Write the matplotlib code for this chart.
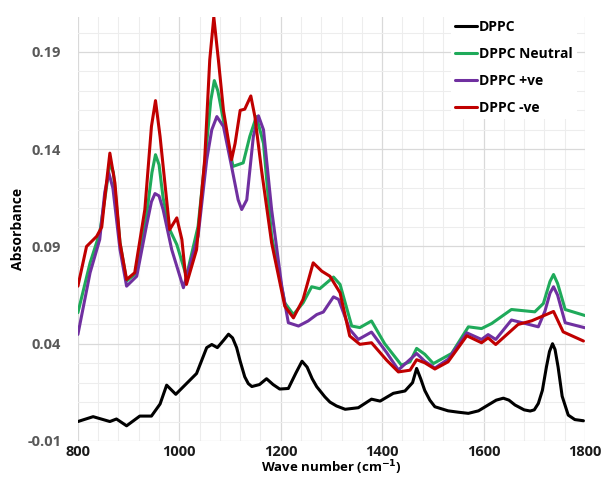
import matplotlib
matplotlib.use("Agg")
import matplotlib.pyplot as plt
from matplotlib.ticker import MultipleLocator, FixedLocator

plt.rcParams['font.family'] = ['Open Sans', 'DejaVu Sans']

labels = ["DPPC", "DPPC Neutral", "DPPC +ve", "DPPC -ve"]
colors = ["#000000", "#1FAA5A", "#7030A0", "#C00000"]

# DPPC (black)
wn_dppc = [800, 830, 863, 876, 896, 922, 945, 962, 975, 993, 1011, 1034, 1054, 1064, 1075, 1088, 1097,
           1105, 1113, 1120, 1129, 1136, 1143, 1158, 1172, 1185, 1198, 1215, 1230, 1242, 1252, 1262, 1271,
           1287, 1297, 1310, 1327, 1353, 1379, 1396, 1422, 1445, 1460, 1468, 1476, 1484, 1494, 1504, 1530,
           1550, 1570, 1590, 1609, 1625, 1639, 1650, 1662, 1680, 1692, 1700, 1708, 1716, 1724, 1730, 1736,
           1741, 1747, 1755, 1767, 1780, 1797]
abs_dppc = [0.000, 0.0025, 0.000, 0.0013, -0.0022, 0.0028, 0.0028, 0.009, 0.0187, 0.014, 0.0187, 0.0247,
            0.038, 0.0396, 0.038, 0.042, 0.0449, 0.043, 0.038, 0.031, 0.023, 0.0195, 0.018, 0.019, 0.022,
            0.019, 0.0167, 0.017, 0.025, 0.031, 0.028, 0.022, 0.0179, 0.0127, 0.010, 0.008, 0.0063, 0.0071,
            0.0115, 0.0105, 0.0145, 0.0157, 0.020, 0.0273, 0.022, 0.016, 0.011, 0.0076, 0.0055, 0.0048,
            0.0042, 0.0055, 0.0085, 0.011, 0.012, 0.011, 0.0085, 0.006, 0.0054, 0.006, 0.0093, 0.016,
            0.0281, 0.036, 0.040, 0.037, 0.028, 0.013, 0.0033, 0.001, 0.0004]

# DPPC Neutral (green)
wn_neutral = [800, 824, 843, 855, 863, 870, 883, 896, 916, 935, 946, 953, 960, 968, 981, 995, 1014, 1037,
              1054, 1062, 1069, 1076, 1093, 1106, 1126, 1139, 1152, 1166, 1182, 1208, 1225, 1244, 1261,
              1277, 1304, 1317, 1340, 1356, 1379, 1405, 1438, 1455, 1468, 1484, 1501, 1537, 1570, 1596,
              1616, 1655, 1701, 1718, 1731, 1738, 1746, 1761, 1800]
abs_neutral = [0.056, 0.0816, 0.097, 0.118, 0.133, 0.128, 0.092, 0.0722, 0.0765, 0.1055, 0.128, 0.1372,
               0.132, 0.115, 0.0987, 0.091, 0.0747, 0.1004, 0.143, 0.165, 0.1753, 0.170, 0.1466, 0.1312,
               0.133, 0.1466, 0.1568, 0.143, 0.0953, 0.061, 0.055, 0.061, 0.0693, 0.0683, 0.0743, 0.0705,
               0.0491, 0.0483, 0.0517, 0.040, 0.029, 0.0307, 0.0376, 0.0346, 0.0298, 0.035, 0.0487, 0.0478,
               0.0504, 0.0576, 0.0564, 0.0607, 0.072, 0.0756, 0.071, 0.0576, 0.0545]

# DPPC +ve (purple)
wn_pos = [800, 824, 843, 853, 861, 869, 883, 896, 916, 935, 945, 952, 960, 968, 985, 1008, 1037, 1054,
          1064, 1074, 1087, 1103, 1116, 1123, 1133, 1146, 1156, 1166, 1182, 1202, 1215, 1235, 1254, 1271,
          1284, 1304, 1314, 1336, 1353, 1379, 1409, 1432, 1468, 1484, 1504, 1530, 1567, 1596, 1609, 1624,
          1655, 1708, 1721, 1731, 1738, 1746, 1761, 1800]
abs_pos = [0.0448, 0.0765, 0.0936, 0.118, 0.1278, 0.120, 0.0884, 0.0696, 0.0747, 0.1004, 0.113, 0.1172,
           0.116, 0.109, 0.0884, 0.0688, 0.0953, 0.1346, 0.150, 0.1568, 0.1517, 0.1312, 0.114, 0.109,
           0.114, 0.1466, 0.1572, 0.150, 0.109, 0.0696, 0.0508, 0.0491, 0.0517, 0.055, 0.0563, 0.0641,
           0.0628, 0.0474, 0.0422, 0.046, 0.0354, 0.0265, 0.035, 0.031, 0.0275, 0.032, 0.0456, 0.0422,
           0.0447, 0.0422, 0.0522, 0.0487, 0.0567, 0.066, 0.0693, 0.065, 0.0508, 0.0482]

# DPPC -ve (red)
wn_neg = [800, 817, 837, 847, 856, 863, 873, 883, 896, 912, 932, 945, 953, 962, 981, 995, 1005, 1014,
          1034, 1050, 1060, 1068, 1077, 1087, 1103, 1110, 1120, 1129, 1141, 1149, 1162, 1182, 1208, 1225,
          1244, 1264, 1281, 1297, 1317, 1336, 1356, 1379, 1409, 1432, 1455, 1468, 1484, 1504, 1530, 1567,
          1596, 1609, 1624, 1668, 1695, 1738, 1757, 1797]
abs_neg = [0.0696, 0.090, 0.0952, 0.100, 0.122, 0.138, 0.1226, 0.0919, 0.073, 0.0765, 0.109, 0.1517,
           0.165, 0.1466, 0.0987, 0.1047, 0.0936, 0.0705, 0.0884, 0.1346, 0.186, 0.208, 0.186, 0.160,
           0.1346, 0.143, 0.160, 0.1606, 0.1674, 0.1568, 0.1295, 0.0919, 0.0593, 0.0533, 0.0628, 0.0816,
           0.0773, 0.0747, 0.0662, 0.044, 0.0397, 0.0405, 0.0315, 0.0255, 0.0264, 0.0318, 0.0302, 0.027,
           0.0307, 0.0441, 0.0405, 0.043, 0.0396, 0.0499, 0.0518, 0.0566, 0.0461, 0.0414]

xs = [wn_dppc, wn_neutral, wn_pos, wn_neg]
ys = [abs_dppc, abs_neutral, abs_pos, abs_neg]

yticks = [-0.01, 0.04, 0.09, 0.14, 0.19]
xticks = [800, 1000, 1200, 1400, 1600, 1800]

fig = plt.figure(figsize=(6.04, 4.80), dpi=100)
ax = fig.add_axes([0.129, 0.0813, 0.8395, 0.8833])

for x, y, c, lab in zip(xs, ys, colors, labels):
    ax.plot(x, y, color=c, lw=2.2, label=lab, solid_joinstyle='round', solid_capstyle='round')

ax.set_xlim(800, 1800)
ax.set_ylim(-0.01, 0.208)
ax.xaxis.set_major_locator(FixedLocator(xticks))
ax.yaxis.set_major_locator(FixedLocator(yticks))
ax.xaxis.set_minor_locator(MultipleLocator(40))
ax.yaxis.set_minor_locator(MultipleLocator(0.01))
ax.set_yticklabels([f"{v:.2f}" for v in yticks])
ax.grid(which='major', color='#d9d9d9', lw=0.9)
ax.grid(which='minor', color='#ededed', lw=0.8)
ax.set_axisbelow(True)
for s in ax.spines.values():
    s.set_visible(False)
ax.tick_params(which='both', length=0)
ax.tick_params(axis='y', labelsize=10.5, labelcolor='#595959', pad=12)
ax.tick_params(axis='x', labelsize=10.5, labelcolor='#1a1a1a', pad=3)
for t in ax.get_xticklabels() + ax.get_yticklabels():
    t.set_fontweight('bold')

ax.set_xlabel("Wave number (cm$^{\\mathbf{-1}}$)", fontsize=9.5, fontweight='bold')
ax.xaxis.set_label_coords(0.5, -0.042)
ax.set_ylabel("Absorbance", fontsize=10, fontweight='bold')
ax.yaxis.set_label_coords(-0.105, 0.5)

leg = ax.legend(loc='upper left', bbox_to_anchor=(0.722, 1.02), frameon=True, fancybox=False,
                edgecolor='none', facecolor='white', framealpha=1,
                prop={'weight': 'bold', 'size': 10}, handlelength=1.6, handletextpad=0.1,
                labelspacing=0.95, borderpad=0.3)

fig.savefig("out.png", dpi=100)
